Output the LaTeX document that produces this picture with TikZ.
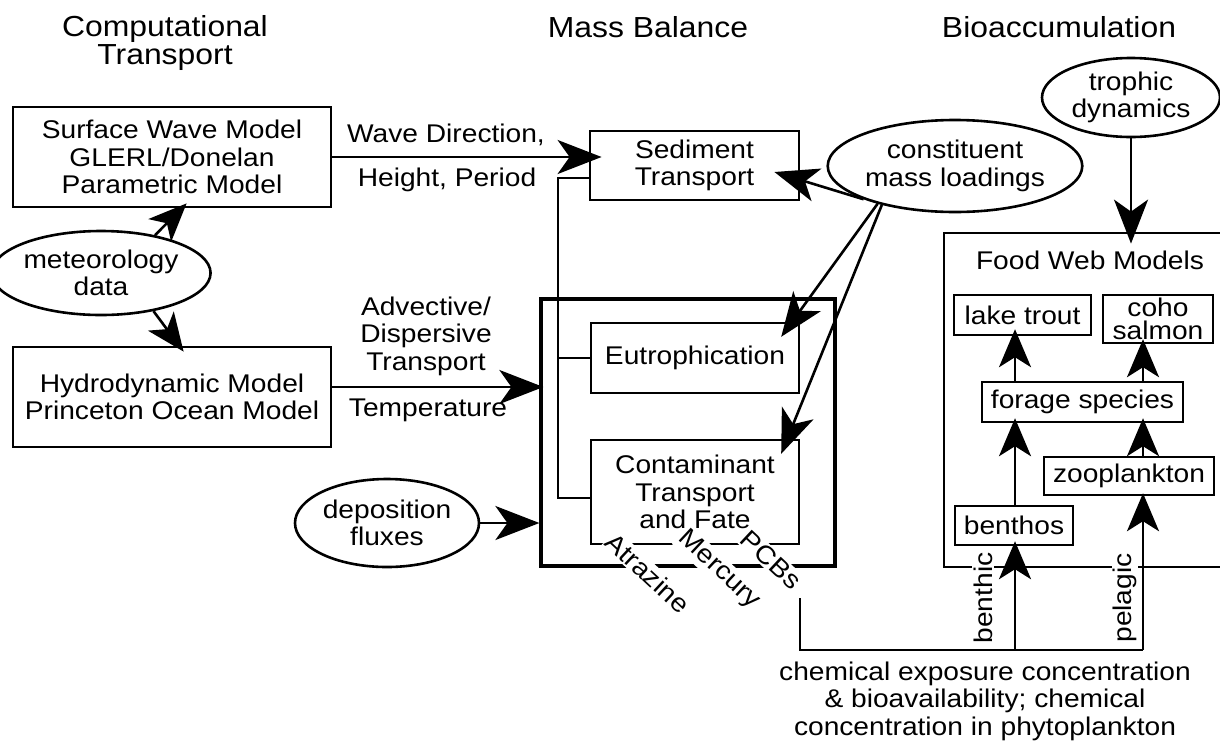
\documentclass[tikz,border=0pt]{standalone}
\usepackage{fontspec}
\setmainfont{Liberation Sans}[FakeStretch=1.1]
\usetikzlibrary{arrows.meta,calc,shapes.geometric}
\newcommand{\myBody}{\fontsize{25.6pt}{27.5pt}\selectfont}
\newcommand{\myTitle}{\fontsize{29pt}{28pt}\selectfont}
\newcommand{\myCoho}{\fontsize{25.6pt}{23pt}\selectfont}
\begin{document}
\begin{tikzpicture}[x=1pt,y=-1pt,
  every node/.style={font=\myBody, inner sep=0pt, align=center},
  box/.style={draw, line width=2.8pt, rectangle},
  ibox/.style={draw, line width=2.4pt, rectangle},
  ell/.style={draw, line width=2.6pt, ellipse},
  arr/.style={line width=2.6pt, -{Stealth[length=44pt,width=34pt,inset=12pt]}},
  arrs/.style={line width=2.6pt, -{Stealth[length=38pt,width=32pt,inset=10pt]}},
  conn/.style={line width=2.2pt},
  lab/.style={fill=white, inner sep=1.5pt}]
\useasboundingbox (0,0) rectangle (1220,742);
\fill[white] (0,0) rectangle (1220,742);

% titles
\node[font=\myTitle] (tct) at (165,43) {Computational\\Transport};
\node[font=\myTitle] (tmb) at (648,27) {Mass Balance};
\node[font=\myTitle] (tba) at (1059,27) {Bioaccumulation};

% left column
\node[box, minimum width=318pt, minimum height=100pt] (sw) at (172,157) {Surface Wave Model\\GLERL/Donelan\\Parametric Model};
\node[box, minimum width=318pt, minimum height=100pt] (hy) at (172,397) {Hydrodynamic Model\\Princeton Ocean Model};
\node[ell, minimum width=184pt, minimum height=84pt] (met) at (101,273) {meteorology\\data};
\node[ell, minimum width=184pt, minimum height=88pt] (dep) at (387,523) {deposition\\fluxes};

% mass balance
\node[box, minimum width=209pt, minimum height=69pt] (sed) at (694.5,165.5) {Sediment\\Transport};
\node[box, line width=3.2pt, minimum width=294pt, minimum height=267pt] (mb) at (688,432.5) {};
\node[ibox, minimum width=208pt, minimum height=70pt] (eut) at (695,358) {Eutrophication};
\node[ibox, minimum width=208pt, minimum height=104pt] (con) at (695,492) {Contaminant\\Transport\\and Fate};
\node[ell, minimum width=224pt, minimum height=92pt] (cm) at (955,166) {constituent\\mass loadings};

% bioaccumulation
\node[ell, minimum width=178pt, minimum height=79pt] (tro) at (1131,97.5) {trophic\\dynamics};
\node[box, minimum width=290pt, minimum height=334pt] (fw) at (1089,400) {};
\node (fwt) at (1090,260) {Food Web Models};
\node[ibox, minimum width=137pt, minimum height=40pt] (lt) at (1022.5,315) {lake trout};
\node[ibox, minimum width=110pt, minimum height=48pt, font=\myCoho] (coho) at (1158,319) {coho\\salmon};
\node[ibox, minimum width=201pt, minimum height=40pt] (fs) at (1082.5,402) {forage species};
\node[ibox, minimum width=170pt, minimum height=38pt] (zoo) at (1129,476) {zooplankton};
\node[ibox, minimum width=118pt, minimum height=39pt] (ben) at (1014,525.5) {benthos};

% labels
\node (wd) at (446,135) {Wave Direction,};
\node (hp) at (447,180) {Height, Period};
\node (adt) at (426,336) {Advective/\\Dispersive\\Transport};
\node (tmp) at (428,410) {Temperature};
\node[lab, rotate=-43] (atr) at (648,573) {Atrazine};
\node[lab, rotate=-43] (mer) at (719,570) {Mercury};
\node[lab, rotate=-43] (pcb) at (771,560) {PCBs};
\node[lab, rotate=90] (bth) at (983,598) {benthic};
\node[lab, rotate=90] (pel) at (1125,598) {pelagic};
\node (chem) at (985,701) {chemical exposure concentration\\\& bioavailability; chemical\\concentration in phytoplankton};

% connectors
\draw[arr] (sw.east) -- ($(sw.east -| sed.west)+(13,0)$);
\draw[arr] ($(hy.east)+(0,-10)$) -- ($(hy.east -| mb.west)+(4,-10)$);
\draw[arr] (dep.east) -- (dep.east -| mb.west);
\draw[arrs] (met.35) -- ($(sw.south west)+(175,-5)$);
\draw[arrs] (met.-36) -- ($(hy.north west)+(172,6)$);
\draw[arr] (cm.200) -- ($(sed.east)+(-26,6.5)$);
\draw[arr] (cm.206) -- ($(eut.north east)+(-19,15)$);
\draw[arr] (cm.208) -- ($(con.north east)+(-19,15)$);
\draw[arr] (tro.south) -- ($(tro.south |- fw.north)+(0,12)$);

\draw[conn] ($(sed.west)+(0,12.5)$) -| ($(con.west)+(-32,6)$) -- ($(con.west)+(0,6)$);
\draw[conn] (eut.west) -- ++(-32,0);

\coordinate (bL) at (1015,650);
\coordinate (bR) at (1143,650);
\draw[conn] ($(con.south east)+(0,53)$) |- (bR);
\draw[arrs] (bR) -- ($(bR |- zoo.south)+(0,-3)$);
\draw[arrs] (bL) -- ($(bL |- ben.south)+(0,-5)$);
\draw[arrs] (bL |- ben.north) -- ($(bL |- fs.south)+(0,-5)$);
\draw[arrs] (bL |- fs.north) -- ($(bL |- lt.south)+(0,-7)$);
\draw[arrs] (bR |- zoo.north) -- ($(bR |- fs.south)+(0,-5)$);
\draw[arrs] (bR |- fs.north) -- ($(bR |- coho.south)+(0,-5)$);
\end{tikzpicture}
\end{document}
